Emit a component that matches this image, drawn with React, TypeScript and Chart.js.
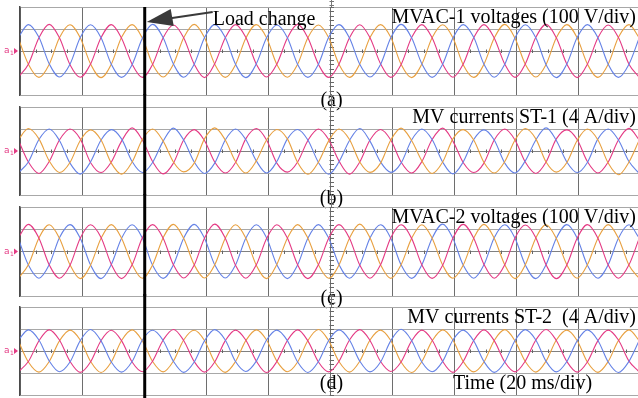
import { useEffect, useRef } from "react";
import { Chart, registerables } from "chart.js";
Chart.register(...registerables);

// time samples (ms), 20 ms/div, 50 Hz waveforms
const TIME_MS = [-0.6, 2.7, 6.1, 9.4, 12.7, 16.1, 19.4, 22.7, 26.1, 29.4, 32.7, 36.1, 39.4, 42.7, 46.1, 49.4, 52.7, 56.1, 59.4, 62.7, 66.1, 69.4, 72.7, 76.1, 79.4, 82.7, 86.1, 89.4, 92.7, 96.1, 99.4, 102.7, 106.1, 109.4, 112.7, 116.1, 119.4, 122.7, 126.1, 129.4, 132.7, 136.1, 139.4, 142.7, 146.1, 149.4, 152.7, 156.1, 159.4, 162.7, 166.1, 169.4, 172.7, 176.1, 179.4, 182.7, 186.1, 189.4, 192.7, 196.1, 199.4];

// (a) MVAC-1 voltages, in divisions
const A_BLUE = [0.6,1.2,0.62,-0.58,-1.18,-0.6, 0.61,1.19,0.6,-0.6,-1.2,-0.62, 0.58,1.21,0.6,-0.59,-1.19,-0.6, 0.6,1.2,0.61,-0.6,-1.21,-0.58, 0.6,1.18,0.6,-0.61,-1.2,-0.6, 0.62,1.2,0.59,-0.6,-1.18,-0.61, 0.6,1.21,0.6,-0.58,-1.2,-0.6, 0.59,1.2,0.62,-0.6,-1.19,-0.6, 0.6,1.19,0.6,-0.62,-1.21,-0.59, 0.61,1.2,0.6,-0.6,-1.2,-0.6, 0.6];
const A_PINK = [-1.2,-0.6,0.6,1.21,0.6,-0.62, -1.19,-0.6,0.61,1.2,0.58,-0.6, -1.2,-0.61,0.6,1.18,0.6,-0.6, -1.21,-0.58,0.6,1.2,0.62,-0.6, -1.18,-0.6,0.59,1.21,0.6,-0.61, -1.2,-0.6,0.6,1.19,0.6,-0.58, -1.2,-0.62,0.61,1.2,0.6,-0.6, -1.19,-0.6,0.6,1.2,0.59,-0.6, -1.2,-0.59,0.62,1.21,0.6,-0.6, -1.21,-0.6,0.6,1.18,0.61,-0.6, -1.2];
const A_ORANGE = [0.6,-0.6,-1.2,-0.61,0.6,1.19, 0.6,-0.58,-1.21,-0.6,0.62,1.2, 0.59,-0.6,-1.18,-0.6,0.6,1.21, 0.61,-0.6,-1.2,-0.62,0.58,1.2, 0.6,-0.61,-1.19,-0.6,0.6,1.18, 0.6,-0.6,-1.2,-0.59,0.61,1.2, 0.62,-0.6,-1.21,-0.6,0.6,1.19, 0.6,-0.62,-1.2,-0.6,0.59,1.21, 0.58,-0.6,-1.18,-0.61,0.6,1.2, 0.6,-0.59,-1.2,-0.6,0.62,1.2, 0.6];

// (b) MV currents ST-1
const B_ORANGE = [0.5,1.02,0.55,-0.45,-0.98,-0.52, 0.48,0.96,0.5,-0.55,-1.05,-0.5, 0.52,1.0,0.45,-0.5,-0.95,-0.55, 0.55,1.05,0.5,-0.48,-1.0,-0.45, 0.5,0.98,0.55,-0.52,-1.06,-0.5, 0.46,1.0,0.52,-0.5,-0.97,-0.55, 0.5,1.04,0.48,-0.45,-1.02,-0.5, 0.55,0.97,0.5,-0.52,-1.0,-0.48, 0.5,1.02,0.55,-0.5,-0.96,-0.52, 0.48,1.0,0.5,-0.55,-1.08,-0.5, 0.5];
const B_BLUE = [-1.0,-0.5,0.52,1.0,0.48,-0.55, -1.05,-0.5,0.5,0.97,0.55,-0.48, -0.98,-0.52,0.45,1.04,0.5,-0.5, -1.02,-0.55,0.5,1.0,0.52,-0.45, -1.0,-0.48,0.55,0.98,0.5,-0.52, -1.06,-0.5,0.48,1.02,0.45,-0.5, -0.97,-0.55,0.5,1.0,0.52,-0.5, -1.04,-0.5,0.52,0.96,0.5,-0.55, -1.0,-0.45,0.5,1.05,0.48,-0.5, -0.98,-0.52,0.55,1.0,0.5,-0.48, -1.02];
const B_PINK = [0.52,-0.5,-1.02,-0.48,0.5,1.0, 0.55,-0.52,-0.98,-0.5,0.45,1.05, 0.5,-0.48,-1.04,-0.55,0.5,0.97, 0.48,-0.5,-1.0,-0.52,0.55,1.02, 0.5,-0.55,-0.96,-0.5,0.48,1.0, 0.52,-0.45,-1.05,-0.5,0.5,0.98, 0.5,-0.5,-1.0,-0.48,0.52,1.04, 0.45,-0.52,-0.98,-0.55,0.5,1.0, 0.5,-0.5,-1.02,-0.5,0.55,0.96, 0.52,-0.48,-1.0,-0.5,0.5,1.03, 0.5];

// (c) MVAC-2 voltages
const C_PINK = [0.61,1.22,0.6,-0.6,-1.2,-0.62, 0.6,1.2,0.63,-0.58,-1.22,-0.6, 0.62,1.21,0.6,-0.6,-1.19,-0.61, 0.6,1.23,0.6,-0.62,-1.2,-0.6, 0.58,1.2,0.61,-0.6,-1.22,-0.59, 0.6,1.21,0.6,-0.61,-1.2,-0.6, 0.62,1.2,0.59,-0.6,-1.21,-0.62, 0.6,1.22,0.6,-0.58,-1.2,-0.6, 0.61,1.19,0.62,-0.6,-1.22,-0.6, 0.6,1.21,0.6,-0.61,-1.2,-0.6, 0.6];
const C_ORANGE = [-1.21,-0.6,0.61,1.2,0.6,-0.6, -1.22,-0.62,0.6,1.21,0.6,-0.58, -1.2,-0.6,0.62,1.22,0.59,-0.6, -1.19,-0.6,0.6,1.2,0.61,-0.62, -1.22,-0.58,0.6,1.21,0.6,-0.6, -1.2,-0.61,0.6,1.23,0.62,-0.6, -1.21,-0.6,0.59,1.2,0.6,-0.61, -1.2,-0.62,0.6,1.22,0.6,-0.6, -1.22,-0.6,0.61,1.2,0.58,-0.6, -1.2,-0.6,0.6,1.21,0.6,-0.62, -1.21];
const C_BLUE = [0.6,-0.61,-1.2,-0.6,0.62,1.21, 0.6,-0.6,-1.22,-0.58,0.6,1.2, 0.61,-0.62,-1.21,-0.6,0.6,1.22, 0.6,-0.6,-1.19,-0.61,0.59,1.2, 0.62,-0.6,-1.22,-0.6,0.6,1.21, 0.6,-0.58,-1.2,-0.62,0.61,1.2, 0.6,-0.6,-1.21,-0.6,0.6,1.23, 0.59,-0.61,-1.2,-0.6,0.62,1.2, 0.6,-0.6,-1.22,-0.59,0.6,1.21, 0.61,-0.62,-1.2,-0.6,0.6,1.2, 0.6];

// (d) MV currents ST-2
const D_BLUE = [0.48,0.96,0.5,-0.45,-0.94,-0.5, 0.47,0.98,0.46,-0.5,-0.96,-0.48, 0.5,0.94,0.48,-0.47,-0.97,-0.5, 0.46,0.97,0.5,-0.48,-0.93,-0.46, 0.5,0.95,0.47,-0.5,-0.98,-0.48, 0.48,0.96,0.5,-0.46,-0.95,-0.5, 0.47,0.99,0.48,-0.5,-0.94,-0.47, 0.5,0.95,0.46,-0.48,-0.97,-0.5, 0.48,0.97,0.5,-0.47,-0.95,-0.48, 0.46,0.96,0.48,-0.5,-0.98,-0.47, 0.48];
const D_PINK = [-0.95,-0.48,0.46,0.96,0.5,-0.47, -0.97,-0.5,0.48,0.94,0.47,-0.5, -0.94,-0.46,0.5,0.98,0.48,-0.48, -0.96,-0.5,0.47,0.95,0.5,-0.46, -0.98,-0.48,0.48,0.96,0.46,-0.5, -0.95,-0.47,0.5,0.97,0.48,-0.48, -0.93,-0.5,0.46,0.95,0.5,-0.47, -0.97,-0.48,0.48,0.96,0.47,-0.5, -0.95,-0.46,0.5,0.98,0.48,-0.48, -0.96,-0.5,0.47,0.95,0.5,-0.46, -0.95];
const D_ORANGE = [0.47,-0.5,-0.96,-0.48,0.46,0.95, 0.5,-0.47,-0.98,-0.5,0.48,0.96, 0.46,-0.48,-0.95,-0.46,0.5,0.94, 0.48,-0.5,-0.97,-0.48,0.47,0.96, 0.5,-0.46,-0.94,-0.5,0.48,0.98, 0.47,-0.48,-0.96,-0.47,0.5,0.95, 0.48,-0.5,-0.98,-0.48,0.46,0.96, 0.5,-0.47,-0.95,-0.5,0.48,0.97, 0.46,-0.48,-0.96,-0.46,0.5,0.95, 0.48,-0.5,-0.97,-0.48,0.47,0.96, 0.47];

const TITLES = ["MVAC-1 voltages (100 V/div)", "MV currents ST-1 (4 A/div)", "MVAC-2 voltages (100 V/div)", "MV currents ST-2  (4 A/div)"];
const LABELS = ["(a)", "(b)", "(c)", "(d)"];
const LOAD_LABEL = "Load change";
const TIME_LABEL = "Time (20 ms/div)";
const LOAD_CHANGE_MS = 40;
const CENTER_MS = 100;
const X_MAX = 199;

const BLUE = "#6582e6";
const PINK = "#e43a84";
const ORANGE = "#e8a040";

const W = 638;
const H = 398;
const PANEL_TOPS = [7, 107, 207, 307];
const PANEL_BOTTOMS = [95, 195, 296, 395];
const LABEL_BASELINES = [106, 204, 304, 389];

const PANELS = [
  [{ v: A_BLUE, c: BLUE }, { v: A_PINK, c: PINK }, { v: A_ORANGE, c: ORANGE }],
  [{ v: B_ORANGE, c: ORANGE }, { v: B_BLUE, c: BLUE }, { v: B_PINK, c: PINK }],
  [{ v: C_PINK, c: PINK }, { v: C_ORANGE, c: ORANGE }, { v: C_BLUE, c: BLUE }],
  [{ v: D_BLUE, c: BLUE }, { v: D_PINK, c: PINK }, { v: D_ORANGE, c: ORANGE }],
];

const FONT = '20px "Liberation Serif", "Times New Roman", serif';

function makeDecor(i: number) {
  return {
    id: "scopeDecor" + i,
    beforeDatasetsDraw(chart: any) {
      const { ctx, scales } = chart;
      const xs = scales.x;
      const ys = scales.y;
      const y0 = Math.round(ys.getPixelForValue(0));
      ctx.save();
      ctx.strokeStyle = "#666";
      ctx.lineWidth = 1;
      // minor ticks along the centre horizontal line
      for (let t = 5; t < X_MAX; t += 5) {
        if (t % 20 === 0) continue;
        const x = Math.round(xs.getPixelForValue(t)) + 0.5;
        ctx.beginPath();
        ctx.moveTo(x, y0 - 1.5);
        ctx.lineTo(x, y0 + 2);
        ctx.stroke();
      }
      // minor ticks along the centre vertical line
      const cx = Math.round(xs.getPixelForValue(CENTER_MS)) + 0.5;
      for (let k = -10; k <= 10; k++) {
        const y = Math.round(ys.getPixelForValue(k * 0.2)) + 0.5;
        ctx.beginPath();
        ctx.moveTo(cx - 2, y);
        ctx.lineTo(cx + 2.5, y);
        ctx.stroke();
      }
      ctx.restore();
    },
    afterDraw(chart: any) {
      const { ctx, chartArea, scales } = chart;
      const xs = scales.x;
      const ys = scales.y;
      const y0 = ys.getPixelForValue(0);
      ctx.save();
      // centre axis through the gap above
      const cx = Math.round(xs.getPixelForValue(CENTER_MS)) + 0.5;
      const gapTop = i === 0 ? 0 : chartArea.top - 13;
      ctx.strokeStyle = "#777";
      ctx.lineWidth = 1;
      ctx.beginPath();
      ctx.moveTo(cx, gapTop);
      ctx.lineTo(cx, chartArea.top);
      ctx.stroke();
      for (let y = gapTop + 1; y < chartArea.top; y += 4.4) {
        ctx.beginPath();
        ctx.moveTo(cx - 2, Math.round(y) + 0.5);
        ctx.lineTo(cx + 2.5, Math.round(y) + 0.5);
        ctx.stroke();
      }
      // left reference marker
      ctx.fillStyle = PINK;
      ctx.font = '9px "DejaVu Sans", sans-serif';
      ctx.textBaseline = "alphabetic";
      ctx.fillText("a", 4, y0 + 2);
      ctx.font = '6px "DejaVu Sans", sans-serif';
      ctx.fillText("1", 10, y0 + 4);
      ctx.beginPath();
      ctx.moveTo(14, y0 - 3);
      ctx.lineTo(18, y0);
      ctx.lineTo(14, y0 + 3);
      ctx.closePath();
      ctx.fill();
      // load change line
      const lx = xs.getPixelForValue(LOAD_CHANGE_MS) + 0.5;
      ctx.strokeStyle = "#000";
      ctx.lineWidth = 3;
      ctx.beginPath();
      ctx.moveTo(lx, i === 0 ? chartArea.top : chartArea.top - 13);
      ctx.lineTo(lx, i === 3 ? H : chartArea.bottom);
      ctx.stroke();
      // texts
      ctx.fillStyle = "#000";
      ctx.font = FONT;
      ctx.textAlign = "right";
      ctx.fillText(TITLES[i], W - 2, chartArea.top + 16);
      ctx.textAlign = "center";
      ctx.fillText(LABELS[i], cx, LABEL_BASELINES[i]);
      if (i === 3) {
        ctx.textAlign = "left";
        ctx.fillText(TIME_LABEL, 453, LABEL_BASELINES[i]);
      }
      if (i === 0) {
        const tipX = lx + 2;
        const tipY = chartArea.top + 15;
        ctx.fillStyle = "#3a3a3a";
        ctx.strokeStyle = "#3a3a3a";
        ctx.lineWidth = 2;
        ctx.beginPath();
        ctx.moveTo(tipX + 22, tipY - 3.5);
        ctx.lineTo(tipX + 66, tipY - 10);
        ctx.stroke();
        ctx.beginPath();
        ctx.moveTo(tipX, tipY);
        ctx.lineTo(tipX + 24, tipY - 13);
        ctx.lineTo(tipX + 27, tipY + 4);
        ctx.closePath();
        ctx.fill();
        ctx.fillStyle = "#000";
        ctx.textAlign = "left";
        ctx.fillText(LOAD_LABEL, tipX + 66, chartArea.top + 18);
      }
      ctx.restore();
    },
  };
}

function Panel({ index }: { index: number }) {
  const ref = useRef<HTMLCanvasElement | null>(null);
  useEffect(() => {
    if (!ref.current) return;
    const chart = new Chart(ref.current, {
      type: "line",
      data: {
        datasets: PANELS[index].map((s) => ({
          data: TIME_MS.map((t, k) => ({ x: t, y: s.v[k] })),
          borderColor: s.c,
          borderWidth: 1.1,
          pointRadius: 0,
          fill: false,
          cubicInterpolationMode: "monotone" as const,
        })),
      },
      options: {
        animation: false,
        responsive: false,
        devicePixelRatio: 1,
        events: [],
        layout: {
          padding: { top: PANEL_TOPS[index], bottom: H - PANEL_BOTTOMS[index], left: 20, right: 0 },
        },
        plugins: { legend: { display: false }, tooltip: { enabled: false }, title: { display: false } },
        scales: {
          x: {
            type: "linear",
            min: 0,
            max: X_MAX,
            ticks: { display: false, stepSize: 20 },
            grid: { color: "#6e6e6e", lineWidth: 1, drawTicks: false },
            border: { display: false },
          },
          y: {
            min: -2,
            max: 2,
            ticks: { display: false, stepSize: 1 },
            grid: {
              color: (c: any) => (c.tick && c.tick.value === 0 ? "#808080" : "#a8a8a8"),
              lineWidth: 1,
              drawTicks: false,
            },
            border: { display: true, color: "#4a4a4a", width: 1.5 },
          },
        },
      },
      plugins: [makeDecor(index)],
    } as any);
    return () => chart.destroy();
  }, [index]);
  return (
    <canvas
      ref={ref}
      width={W}
      height={H}
      style={{ position: "absolute", left: 0, top: 0, width: W, height: H }}
    />
  );
}

export default function App() {
  return (
    <div style={{ position: "absolute", left: 0, top: 0, width: W, height: H, background: "#fff" }}>
      {[0, 1, 2, 3].map((i) => (
        <Panel key={i} index={i} />
      ))}
    </div>
  );
}
